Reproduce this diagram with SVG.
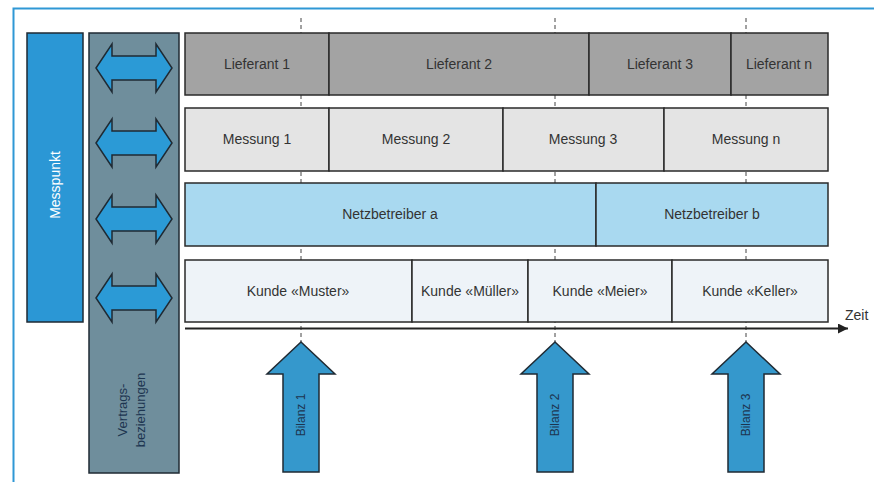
<svg xmlns="http://www.w3.org/2000/svg" width="874" height="482" viewBox="0 0 874 482">
<style>
.t{font-family:"Liberation Sans",Arial,sans-serif;font-size:14px;fill:#333;text-anchor:middle}
.box{stroke:#2a2a2a;stroke-width:1.5}
.lief{fill:#a3a3a3}
.mess{fill:#e4e4e4}
.netz{fill:#a9d9f0}
.kunde{fill:#eef3f8}
.dash{stroke:#444;stroke-width:1;stroke-dasharray:4,3;fill:none}
.darr{fill:#2b9ad6;stroke:#1f2a33;stroke-width:1.5}
.bil{fill:#3598cc;stroke:#1f2a33;stroke-width:1.5}
.bt{font-family:"Liberation Sans",Arial,sans-serif;font-size:12px;fill:#1d3550;text-anchor:middle}
</style>
<defs>
<marker id="ah" viewBox="0 0 10 10" refX="10" refY="5" markerWidth="10" markerHeight="10" markerUnits="userSpaceOnUse" orient="auto">
<path d="M0,0 L10,5 L0,10 z" fill="#222"/>
</marker>
<path id="dbl" d="M0,0 L16,-24 L16,-12 L60,-12 L60,-24 L76,0 L60,24 L60,12 L16,12 L16,24 z"/>
<path id="up" d="M0,0 L34,32 L18,32 L18,130 L-18,130 L-18,32 L-34,32 z"/>
</defs>
<rect x="13.5" y="8.5" width="872" height="480" fill="#fff" stroke="#2f98d5" stroke-width="2"/>
<g id="connectors">
<line class="dash" x1="301" y1="18" x2="301" y2="342"/>
<line class="dash" x1="555" y1="18" x2="555" y2="342"/>
<line class="dash" x1="746" y1="18" x2="746" y2="342"/>
<line x1="185" y1="328.5" x2="848" y2="328.5" stroke="#222" stroke-width="2" marker-end="url(#ah)"/>
<text x="845" y="320" font-family="Liberation Sans,Arial,sans-serif" font-size="14" fill="#333">Zeit</text>
</g>
<g id="messpunkt">
<rect x="27" y="33" width="56" height="289" fill="#2b97d5" stroke="#1f2a33" stroke-width="1.5"/>
<text x="0" y="0" transform="translate(60,185) rotate(-90)" font-family="Liberation Sans,Arial,sans-serif" font-size="14" fill="#fff" text-anchor="middle">Messpunkt</text>
</g>
<g id="vertrag">
<rect x="89" y="33" width="90" height="440" fill="#6f8e9c" stroke="#1f2a33" stroke-width="1.5"/>
<use href="#dbl" class="darr" transform="translate(96,68)"/>
<use href="#dbl" class="darr" transform="translate(96,143)"/>
<use href="#dbl" class="darr" transform="translate(96,219)"/>
<use href="#dbl" class="darr" transform="translate(96,298)"/>
<text transform="translate(127,410) rotate(-90)" font-family="Liberation Sans,Arial,sans-serif" font-size="13" fill="#1d3550" text-anchor="middle">Vertrags-</text>
<text transform="translate(145,410) rotate(-90)" font-family="Liberation Sans,Arial,sans-serif" font-size="13" fill="#1d3550" text-anchor="middle">beziehungen</text>
</g>
<g id="lieferant">
<rect class="box lief" x="185" y="33" width="144" height="62"/>
<rect class="box lief" x="329" y="33" width="260" height="62"/>
<rect class="box lief" x="589" y="33" width="142" height="62"/>
<rect class="box lief" x="731" y="33" width="97" height="62"/>
<text class="t" x="257" y="69">Lieferant 1</text>
<text class="t" x="459" y="69">Lieferant 2</text>
<text class="t" x="660" y="69">Lieferant 3</text>
<text class="t" x="779" y="69">Lieferant n</text>
</g>
<g id="messung">
<rect class="box mess" x="185" y="108" width="144" height="63"/>
<rect class="box mess" x="329" y="108" width="174" height="63"/>
<rect class="box mess" x="503" y="108" width="161" height="63"/>
<rect class="box mess" x="664" y="108" width="164" height="63"/>
<text class="t" x="257" y="144">Messung 1</text>
<text class="t" x="416" y="144">Messung 2</text>
<text class="t" x="583" y="144">Messung 3</text>
<text class="t" x="746" y="144">Messung n</text>
</g>
<g id="netzbetreiber">
<rect class="box netz" x="185" y="183" width="411" height="63"/>
<rect class="box netz" x="596" y="183" width="232" height="63"/>
<text class="t" x="390" y="219">Netzbetreiber a</text>
<text class="t" x="712" y="219">Netzbetreiber b</text>
</g>
<g id="kunde">
<rect class="box kunde" x="185" y="260" width="227" height="62"/>
<rect class="box kunde" x="412" y="260" width="116" height="62"/>
<rect class="box kunde" x="528" y="260" width="144" height="62"/>
<rect class="box kunde" x="672" y="260" width="156" height="62"/>
<text class="t" x="298" y="296">Kunde «Muster»</text>
<text class="t" x="470" y="296">Kunde «Müller»</text>
<text class="t" x="600" y="296">Kunde «Meier»</text>
<text class="t" x="750" y="296">Kunde «Keller»</text>
</g>
<g id="bilanz1">
<use href="#up" class="bil" transform="translate(301,342)"/>
<text class="bt" transform="translate(305,415) rotate(-90)">Bilanz 1</text>
</g>
<g id="bilanz2">
<use href="#up" class="bil" transform="translate(555,342)"/>
<text class="bt" transform="translate(559,415) rotate(-90)">Bilanz 2</text>
</g>
<g id="bilanz3">
<use href="#up" class="bil" transform="translate(746,342)"/>
<text class="bt" transform="translate(750,415) rotate(-90)">Bilanz 3</text>
</g>
</svg>
